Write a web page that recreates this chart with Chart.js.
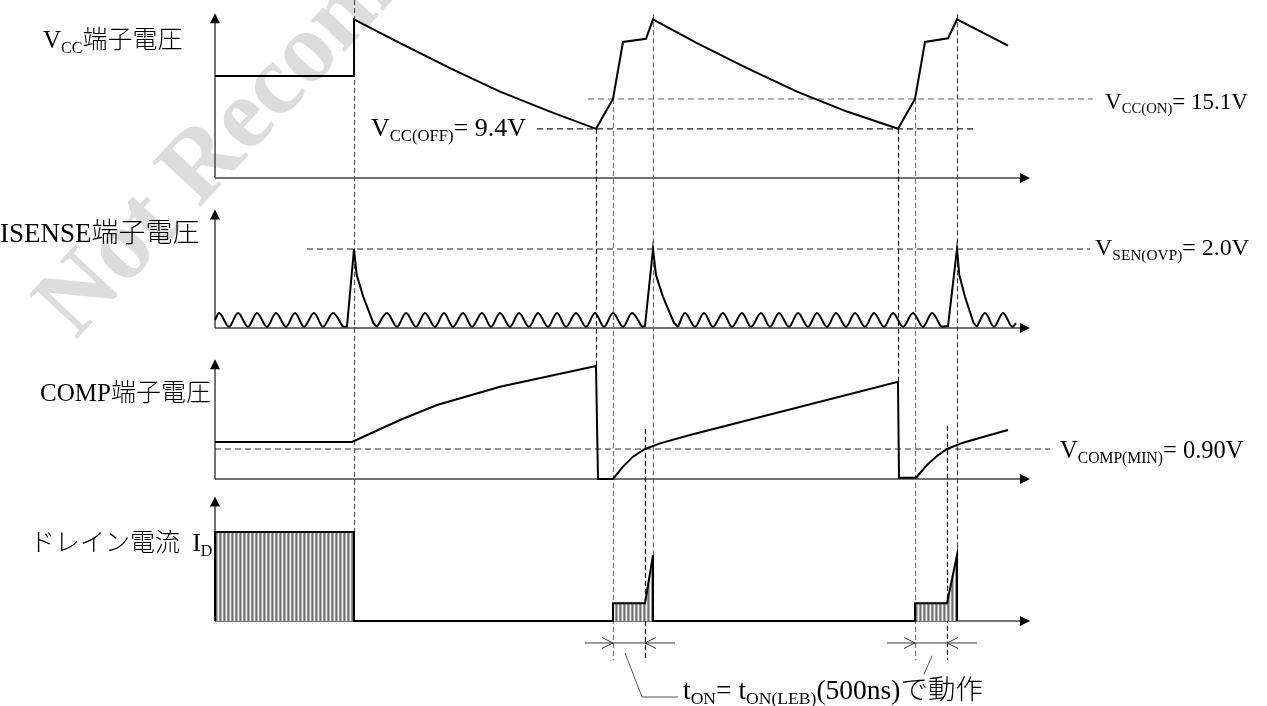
<!DOCTYPE html>
<html lang="ja">
<head>
<meta charset="UTF-8">
<title>起動・過電圧保護 タイミングチャート</title>
<script src="https://cdn.jsdelivr.net/npm/chart.js"></script>
<style>
    body {
        margin: 0;
        background: #fff;
    }
    #wrap {
        position: relative;
        width: 1267px;
        height: 706px;
        overflow: hidden;
    }
    #timing {
        position: absolute;
        left: 0;
        top: 0;
    }
    .mark {
        position: absolute;
        left: 88px;
        top: 252px;
        font: bold 100px "Liberation Serif", serif;
        line-height: 1;
        color: #dcdcdc;
        white-space: nowrap;
        transform-origin: 0 100%;
        transform: rotate(-47deg);
    }
    .lbl {
        position: absolute;
        font-family: "Liberation Serif", "Noto Sans CJK JP", serif;
        font-size: 25px;
        line-height: 1;
        white-space: nowrap;
        color: #000;
        transform: translateY(-50%);
    }
    .lbl sub {
        font-size: 0.64em;
        position: relative;
        top: 0.3em;
        vertical-align: baseline;
        line-height: 0;
    }
    .jp {
        font-family: "Noto Sans CJK JP", sans-serif;
        font-weight: 300;
    }
</style>
</head>
<body>
<div id="wrap">
    <div class="mark">Not Recommended</div>
    <canvas id="timing" width="1267" height="706"></canvas>

    <div class="lbl" style="left:43px;top:38px">V<sub>CC</sub><span class="jp">端子電圧</span></div>
    <div class="lbl" style="left:0px;top:232px;font-size:27px">ISENSE<span class="jp">端子電圧</span></div>
    <div class="lbl" style="left:40px;top:391px">COMP<span class="jp">端子電圧</span></div>
    <div class="lbl" style="left:30px;top:541px"><span class="jp">ドレイン電流</span>&nbsp;&nbsp;I<sub>D</sub></div>

    <div class="lbl" style="left:371px;top:128px;font-size:26px">V<sub>CC(OFF)</sub>= 9.4V</div>
    <div class="lbl" style="left:1105px;top:101px;font-size:23px">V<sub>CC(ON)</sub>= 15.1V</div>
    <div class="lbl" style="left:1095px;top:247px;font-size:24px">V<sub>SEN(OVP)</sub>= 2.0V</div>
    <div class="lbl" style="left:1060px;top:450px;font-size:24.5px">V<sub>COMP(MIN)</sub>= 0.90V</div>
    <div class="lbl" style="left:683px;top:689px;font-size:27.5px">t<sub>ON</sub>= t<sub>ON(LEB)</sub>(500ns)<span class="jp">で動作</span></div>
</div>

<script>
    // time axis in arbitrary units, 0 = start of the trace
    const vccTime = [0, 13.9, 13.9, 18.5, 23.5, 28.5, 33.5, 38.1, 39.8, 40.8, 43.1, 43.8,
        48.2, 53.2, 58.2, 63.2, 68.3, 70.0, 71.0, 73.3, 74.2, 79.3];
    const vccVolt = [19.5, 19.5, 30.3, 25.8, 21.0, 16.5, 12.7, 9.4, 15.1, 26.0, 26.6, 30.3,
        25.8, 21.0, 16.5, 12.7, 9.4, 15.1, 26.0, 26.7, 30.3, 25.3];

    // ISENSE ripple (peak / valley), null = break between runs
    const rippleTime = [0, 0.4, 1.4, 2.3, 3.3, 4.2, 5.2, 6.1, 7.1, 8.0, 8.9, 9.9, 10.8, 11.8, 12.8, 14.5,
        16.2, 17.2, 18.2, 19.1, 20.1, 21.0, 22.0, 22.9, 23.8, 24.8, 25.7, 26.7, 27.6, 28.5, 29.5,
        30.4, 31.4, 32.3, 33.3, 34.2, 35.1, 36.1, 37.1, 38.0, 38.9, 39.8, 40.8, 41.7, 42.7, 44.5,
        46.3, 47.0, 48.0, 48.9, 49.8, 50.8, 51.7, 52.7, 53.6, 54.6, 55.5, 56.4, 57.4, 58.3, 59.3,
        60.2, 61.2, 62.1, 63.1, 64.0, 65.0, 65.9, 66.9, 67.8, 68.8, 69.8, 70.8, 71.7, 72.6, 75.0,
        76.2, 77.0, 77.9, 78.8, 79.75, 80.1];
    const rippleVolt = [0.2, 0.38, 0.03, 0.38, 0.03, 0.38, 0.03, 0.38, 0.03, 0.38, 0.03, 0.38, 0.03, 0.38, 0.03, null,
        0.03, 0.38, 0.03, 0.38, 0.03, 0.38, 0.03, 0.38, 0.03, 0.38, 0.03, 0.38, 0.03, 0.38, 0.03,
        0.38, 0.03, 0.38, 0.03, 0.38, 0.03, 0.38, 0.03, 0.38, 0.03, 0.38, 0.03, 0.38, 0.03, null,
        0.03, 0.38, 0.03, 0.38, 0.03, 0.38, 0.03, 0.38, 0.03, 0.38, 0.03, 0.38, 0.03, 0.38, 0.03,
        0.38, 0.03, 0.38, 0.03, 0.38, 0.03, 0.38, 0.03, 0.38, 0.03, 0.38, 0.03, 0.38, 0.03, null,
        0.03, 0.38, 0.03, 0.38, 0.03, 0.12];

    // ISENSE spikes up to V_SEN(OVP)
    const spikeTime = [12.8, 13.2, 13.9, 14.17, 14.83, 15.83, 16.2, 30,
        42.7, 43.0, 43.8, 44.1, 44.8, 45.9, 46.3, 60,
        72.6, 73.3, 74.2, 74.43, 75.0, 75.85, 76.2];
    const spikeVolt = [0.03, 0.04, 2.0, 1.34, 0.79, 0.13, 0.03, null,
        0.03, 0.05, 2.0, 1.34, 0.79, 0.13, 0.03, null,
        0.03, 0.05, 2.0, 1.34, 0.79, 0.13, 0.03];

    const compTime = [0, 13.7, 18.5, 22.2, 28.5, 38.1, 38.3, 39.8, 40.8, 41.8, 43.0, 44.5, 47.5,
        68.3, 68.4, 70.1, 71.2, 72.2, 73.2, 74.8, 77.5, 79.3];
    const compVolt = [1.11, 1.11, 1.77, 2.22, 2.77, 3.39, 0.0, 0.0, 0.37, 0.67, 0.90, 1.07, 1.32,
        2.92, 0.04, 0.04, 0.42, 0.69, 0.90, 1.09, 1.32, 1.47];

    // drain current, relative to the start-up level
    const idTime = [0, 0, 13.9, 13.9, 39.8, 39.8, 43.0, 43.8, 43.8, 70.0, 70.0, 73.2, 74.2, 74.2];
    const idLevel = [0, 1.0, 1.0, 0, 0, 0.2, 0.2, 0.74, 0, 0, 0.2, 0.2, 0.74, 0];

    // thresholds
    const vccOff = 9.4;
    const vccOn = 15.1;
    const senOvp = 2.0;
    const compMin = 0.90;

    // switching edges marked with vertical guides
    const guideTimes = [13.9, 38.1, 39.8, 43.0, 43.8, 68.3, 70.0, 73.2, 74.2];
    // t_ON windows
    const tonWindows = [[39.8, 43.0], [70.0, 73.2]];

    const axisEnd = 81.5;

    // panel placement: value 0 on the axis line, a reference value at a given height
    const H = 706;
    const panels = [
        { id: 'vcc', zeroPx: 178, refValue: 15.1, refPx: 99, axisTop: 31.5 },
        { id: 'isense', zeroPx: 328, refValue: 2.0, refPx: 249, axisTop: 3.0 },
        { id: 'comp', zeroPx: 479, refValue: 0.9, refPx: 449, axisTop: 3.59 },
        { id: 'id', zeroPx: 621, refValue: 1.0, refPx: 532, axisTop: 1.4 }
    ];

    const pts = (ts, vs) => ts.map((t, i) => ({ x: t, y: vs[i] }));

    const scales = {
        x: { type: 'linear', min: -21.5, max: 105.2, display: false }
    };
    panels.forEach(p => {
        const k = p.refValue / (p.zeroPx - p.refPx);
        scales[p.id] = { type: 'linear', position: 'left', display: false, min: -(H - p.zeroPx) * k, max: p.zeroPx * k };
    });

    const canvas = document.getElementById('timing');
    const ctx = canvas.getContext('2d');

    // vertical hatching for the drain current pulses
    const tile = document.createElement('canvas');
    tile.width = 4;
    tile.height = 1;
    const tc = tile.getContext('2d');
    ['#6e6e6e', '#b4b4b4', '#f2f2f2', '#999'].forEach((col, i) => {
        tc.fillStyle = col;
        tc.fillRect(i, 0, 1, 1);
    });
    const hatch = ctx.createPattern(tile, 'repeat');

    function refLine(axis, value, t0, t1, color) {
        return {
            data: [{ x: t0, y: value }, { x: t1, y: value }],
            yAxisID: axis,
            borderColor: color,
            borderWidth: 1.2,
            borderDash: [6, 4],
            pointRadius: 0
        };
    }

    // [top end, bottom end, colour] for each guide
    const guideStyle = [
        [['vcc', 34.0], ['id', 1.0], '#555'],
        [['vcc', vccOff], ['comp', 3.39], '#111'],
        [['vcc', vccOn], ['id', -0.44], '#777'],
        [['comp', 1.5], ['id', -0.44], '#111'],
        [['vcc', 31.3], ['id', 0], '#666'],
        [['vcc', vccOff], ['comp', 2.92], '#111'],
        [['vcc', vccOn], ['id', -0.44], '#777'],
        [['comp', 1.6], ['id', -0.44], '#111'],
        [['vcc', 31.3], ['id', 0], '#444']
    ];

    function seg(c, x0, y0, x1, y1) {
        c.beginPath();
        c.moveTo(x0, y0);
        c.lineTo(x1, y1);
        c.stroke();
    }

    const timingDecor = {
        id: 'timingDecor',
        beforeDatasetsDraw(chart) {
            const c = chart.ctx;
            const xs = chart.scales.x;
            c.save();

            // axes with arrow heads
            panels.forEach(p => {
                const s = chart.scales[p.id];
                const x0 = xs.getPixelForValue(0);
                const x1 = xs.getPixelForValue(axisEnd);
                const y0 = s.getPixelForValue(0);
                const yt = s.getPixelForValue(p.axisTop);
                c.strokeStyle = '#444';
                c.fillStyle = '#000';
                c.lineWidth = 1.5;
                seg(c, x0, y0, x0, yt + 9);
                seg(c, x0, y0, x1 - 9, y0);
                c.beginPath();
                c.moveTo(x0, yt);
                c.lineTo(x0 - 5, yt + 10);
                c.lineTo(x0 + 5, yt + 10);
                c.closePath();
                c.fill();
                c.beginPath();
                c.moveTo(x1, y0);
                c.lineTo(x1 - 10, y0 - 5);
                c.lineTo(x1 - 10, y0 + 5);
                c.closePath();
                c.fill();
            });

            // dashed guides at the switching edges
            c.lineWidth = 1.2;
            c.setLineDash([5, 3]);
            guideTimes.forEach((t, i) => {
                const [top, bottom, col] = guideStyle[i];
                const x = Math.round(xs.getPixelForValue(t)) + 0.5;
                c.strokeStyle = col;
                seg(c, x, chart.scales[top[0]].getPixelForValue(top[1]),
                    x, chart.scales[bottom[0]].getPixelForValue(bottom[1]));
            });
            c.restore();
        },
        afterDatasetsDraw(chart) {
            const c = chart.ctx;
            const xs = chart.scales.x;
            const ys = chart.scales.id;
            c.save();
            c.lineWidth = 1;
            c.strokeStyle = '#333';
            const yd = ys.getPixelForValue(-0.247);
            tonWindows.forEach(([t0, t1]) => {
                const a = xs.getPixelForValue(t0);
                const b = xs.getPixelForValue(t1);
                seg(c, a - 28, yd, b + 30, yd);
                // open arrow heads pointing at both edges
                c.beginPath();
                c.moveTo(a - 11, yd - 5.5);
                c.lineTo(a, yd);
                c.lineTo(a - 11, yd + 5.5);
                c.stroke();
                c.beginPath();
                c.moveTo(b + 11, yd - 5.5);
                c.lineTo(b, yd);
                c.lineTo(b + 11, yd + 5.5);
                c.stroke();
            });

            // leaders to the t_ON note
            c.strokeStyle = '#555';
            c.beginPath();
            c.moveTo(xs.getPixelForValue(41.0), ys.getPixelForValue(-0.36));
            c.lineTo(xs.getPixelForValue(42.7), ys.getPixelForValue(-0.854));
            c.lineTo(xs.getPixelForValue(46.3), ys.getPixelForValue(-0.854));
            c.stroke();
            seg(c, xs.getPixelForValue(71.7), ys.getPixelForValue(-0.39),
                xs.getPixelForValue(70.9), ys.getPixelForValue(-0.6));
            c.restore();
        }
    };

    new Chart(canvas, {
        type: 'line',
        data: {
            datasets: [
                {
                    data: pts(vccTime, vccVolt),
                    yAxisID: 'vcc',
                    borderColor: '#000',
                    borderWidth: 2
                },
                {
                    data: pts(rippleTime, rippleVolt),
                    yAxisID: 'isense',
                    borderColor: '#000',
                    borderWidth: 2,
                    cubicInterpolationMode: 'monotone'
                },
                {
                    data: pts(spikeTime, spikeVolt),
                    yAxisID: 'isense',
                    borderColor: '#000',
                    borderWidth: 2
                },
                {
                    data: pts(compTime, compVolt),
                    yAxisID: 'comp',
                    borderColor: '#000',
                    borderWidth: 2
                },
                {
                    data: pts(idTime, idLevel),
                    yAxisID: 'id',
                    borderColor: '#000',
                    borderWidth: 2,
                    fill: 'origin',
                    backgroundColor: hatch
                },
                refLine('vcc', vccOff, 32.2, 76.2, '#222'),
                refLine('vcc', vccOn, 37.3, 87.8, '#666'),
                refLine('isense', senOvp, 9.2, 87.5, '#222'),
                refLine('comp', compMin, 0, 83.5, '#333')
            ]
        },
        options: {
            responsive: false,
            animation: false,
            devicePixelRatio: 1,
            layout: { padding: 0 },
            spanGaps: false,
            elements: {
                point: { radius: 0 },
                line: { tension: 0, borderJoinStyle: 'miter' }
            },
            scales: scales,
            plugins: {
                legend: { display: false },
                tooltip: { enabled: false }
            }
        },
        plugins: [timingDecor]
    });
</script>
</body>
</html>
